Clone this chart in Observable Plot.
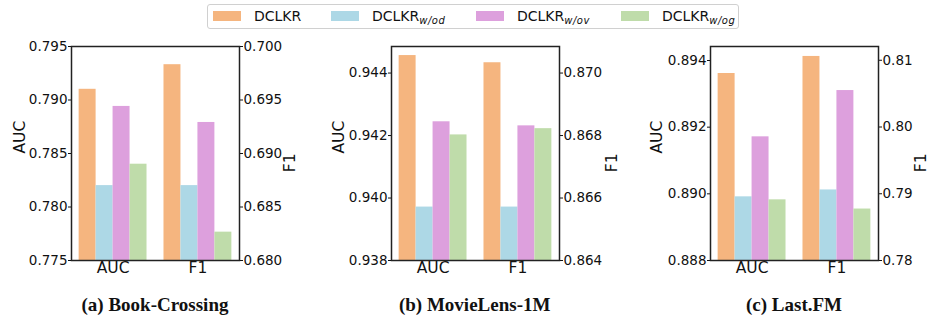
<!DOCTYPE html>
<html><head><meta charset="utf-8">
<script src="https://cdn.jsdelivr.net/npm/d3@7"></script>
<script src="https://cdn.jsdelivr.net/npm/@observablehq/plot@0.6"></script>
<style>
body{margin:0;background:#fff;}
#root{position:relative;width:928px;height:322px;overflow:hidden;font-family:"DejaVu Sans",sans-serif;color:#111;background:#fff;}
.layer{position:absolute;top:0;}
.layer svg{background:transparent !important;max-width:none !important;}
.legend{position:absolute;left:207px;top:4px;width:532px;height:25px;border:1px solid #d0d0d0;border-radius:3px;box-sizing:border-box;}
.sw{position:absolute;top:6px;width:28px;height:10px;}
.lt{position:absolute;top:2px;font-size:14px;line-height:18px;white-space:nowrap;}
.lt sub{font-size:10px;font-style:italic;vertical-align:-3px;line-height:0;letter-spacing:0.5px;}
.cap{position:absolute;top:295px;width:300px;text-align:center;font-family:"Liberation Serif","Times New Roman",serif;font-weight:bold;font-size:19px;line-height:19px;}
</style></head><body><div id="root"></div>
<script>
const metrics = ["AUC", "F1"];
const models = ["DCLKR", "DCLKR w/od", "DCLKR w/ov", "DCLKR w/og"];
const legendBase = ["DCLKR", "DCLKR", "DCLKR", "DCLKR"];
const legendSub = ["", "w/od", "w/ov", "w/og"];
const colors = ["#F5B57F", "#ADD8E6", "#DDA0DD", "#BFDCAA"];
const datasets = ["(a) Book-Crossing", "(b) MovieLens-1M", "(c) Last.FM"];
const aucValues = [
  [0.7910, 0.7820, 0.7894, 0.7840],
  [0.94456, 0.93971, 0.94244, 0.94202],
  [0.89361, 0.88991, 0.89171, 0.88982]
];
const f1Values = [
  [0.6983, 0.6870, 0.6929, 0.68265],
  [0.87033, 0.86571, 0.86831, 0.86822],
  [0.81057, 0.79057, 0.80546, 0.78771]
];
const aucDomains = [[0.775, 0.795], [0.938, 0.94485], [0.888, 0.89442]];
const f1Domains = [[0.680, 0.700], [0.864, 0.87085], [0.78, 0.81206]];
const aucTicks = [[0.775, 0.780, 0.785, 0.790, 0.795], [0.938, 0.940, 0.942, 0.944], [0.888, 0.890, 0.892, 0.894]];
const f1Ticks = [[0.680, 0.685, 0.690, 0.695, 0.700], [0.864, 0.866, 0.868, 0.870], [0.78, 0.79, 0.80, 0.81]];
const aucFormats = [".3f", ".3f", ".3f"];
const f1Formats = [".3f", ".3f", ".2f"];

// layout
const frameLefts = [71, 390.7, 710];
const aucLabelDx = [-51, -52.4, -53.3];
const f1LabelDx = [51, 53, 43];
const ML = 71, MR = 60, W = 299, H = 290, MT = 46, MB = 30;
const BW = 0.2;

const root = document.getElementById("root");

function rows(p, g, values) {
  return models.map((m, i) => ({model: m, i, g, value: values[p][i]}));
}

datasets.forEach((name, p) => {
  const common = {
    width: W, height: H, marginLeft: ML, marginRight: MR, marginTop: MT, marginBottom: MB,
    x: {domain: [-0.49, 1.49], axis: null},
    color: {domain: models, range: colors},
    style: {fontFamily: "DejaVu Sans, sans-serif", color: "#111", background: "transparent", overflow: "visible"}
  };
  const bar = (dom) => ({
    x1: d => d.g + (d.i - 2) * BW,
    x2: d => d.g + (d.i - 1) * BW,
    y1: () => dom[0],
    y2: "value",
    fill: "model"
  });
  const left = Plot.plot({
    ...common,
    y: {domain: aucDomains[p], axis: null},
    marks: [
      Plot.rectY(rows(p, 0, aucValues), bar(aucDomains[p])),
      Plot.axisY({anchor: "left", ticks: aucTicks[p], tickFormat: d3.format(aucFormats[p]), tickSize: 3, tickPadding: 1, fontSize: 13.5, label: null}),
      Plot.axisX({ticks: [0, 1], tickFormat: i => metrics[i], tickSize: 0, tickPadding: 1, fontSize: 15.5, label: null}),
      Plot.text(["AUC"], {frameAnchor: "left", dx: aucLabelDx[p], rotate: -90, fontSize: 15.5})
    ]
  });
  const right = Plot.plot({
    ...common,
    y: {domain: f1Domains[p], axis: null},
    marks: [
      Plot.rectY(rows(p, 1, f1Values), bar(f1Domains[p])),
      Plot.axisY({anchor: "right", ticks: f1Ticks[p], tickFormat: d3.format(f1Formats[p]), tickSize: 3, tickPadding: 1, fontSize: 13.5, label: null}),
      Plot.text(["F1"], {frameAnchor: "right", dx: f1LabelDx[p], rotate: -90, fontSize: 15.5}),
      Plot.frame({stroke: "#222", strokeWidth: 1.5})
    ]
  });
  [left, right].forEach(svg => {
    const div = document.createElement("div");
    div.className = "layer";
    div.style.left = (frameLefts[p] - ML) + "px";
    div.appendChild(svg);
    root.appendChild(div);
  });
  const cap = document.createElement("div");
  cap.className = "cap";
  cap.style.left = (frameLefts[p] + 84 - 150) + "px";
  cap.textContent = name;
  root.appendChild(cap);
});

// legend
const legend = document.createElement("div");
legend.className = "legend";
const swX = [5, 123, 268, 413];
const txX = [46, 164, 309, 454];
models.forEach((m, i) => {
  const sw = document.createElement("div");
  sw.className = "sw";
  sw.style.left = swX[i] + "px";
  sw.style.background = colors[i];
  legend.appendChild(sw);
  const t = document.createElement("div");
  t.className = "lt";
  t.style.left = txX[i] + "px";
  t.innerHTML = legendBase[i] + (legendSub[i] ? "<sub>" + legendSub[i] + "</sub>" : "");
  legend.appendChild(t);
});
root.appendChild(legend);
</script>
</body></html>
